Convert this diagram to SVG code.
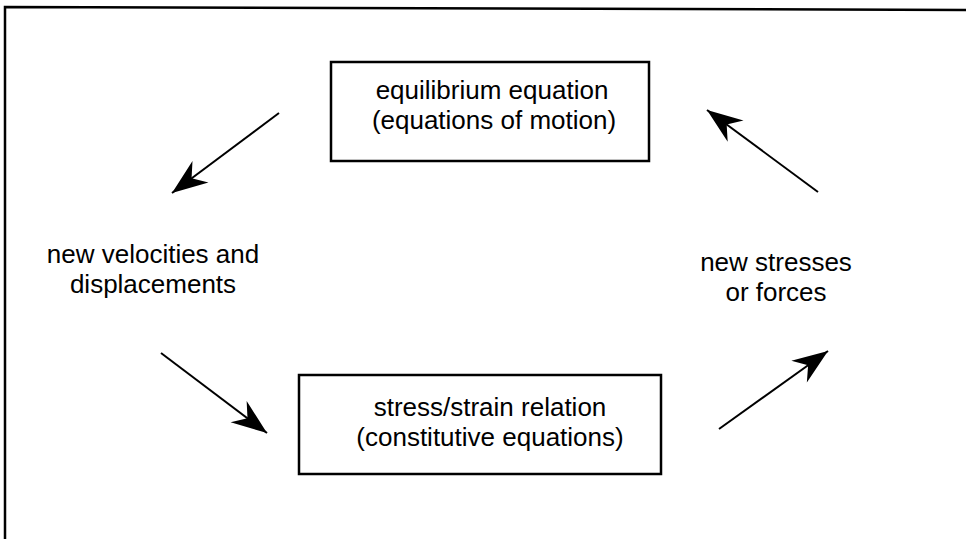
<svg xmlns="http://www.w3.org/2000/svg" width="966" height="539" viewBox="0 0 966 539">
<style>
  .t{font-family:"Liberation Sans",Arial,sans-serif;font-size:26px;fill:#000;text-anchor:middle}
  .box{fill:#fff;stroke:#000;stroke-width:2.5}
  .c{stroke:#000;stroke-width:2;fill:none;marker-end:url(#ah)}
</style>
<defs>
  <marker id="ah" markerUnits="userSpaceOnUse" markerWidth="40" markerHeight="40" viewBox="-34 -14 36 28" refX="0" refY="0" orient="auto">
    <path d="M0,0 L-32,-12 L-22,0 L-32,12 Z" fill="#000"/>
  </marker>
</defs>
<rect width="966" height="539" fill="#fff"/>
<g id="frame"><path d="M5,539 L5,7 L966,10" fill="none" stroke="#000" stroke-width="2.5"/></g>
<g id="n1"><rect class="box" x="331" y="62" width="318" height="99"/>
  <text class="t" x="492" y="99">equilibrium equation</text>
  <text class="t" x="494" y="129">(equations of motion)</text></g>
<g id="n2"><text class="t" x="153" y="263">new velocities and</text>
  <text class="t" x="153" y="293">displacements</text></g>
<g id="n3"><rect class="box" x="299" y="375" width="362" height="99"/>
  <text class="t" x="490" y="416">stress/strain relation</text>
  <text class="t" x="490" y="446">(constitutive equations)</text></g>
<g id="n4"><text class="t" x="776" y="271">new stresses</text>
  <text class="t" x="776" y="301">or forces</text></g>
<g id="connectors">
  <line class="c" x1="279" y1="113" x2="172" y2="193"/>
  <line class="c" x1="161" y1="353" x2="267" y2="433"/>
  <line class="c" x1="719" y1="429" x2="828" y2="351"/>
  <line class="c" x1="818" y1="192" x2="707" y2="110"/>
</g>
</svg>
